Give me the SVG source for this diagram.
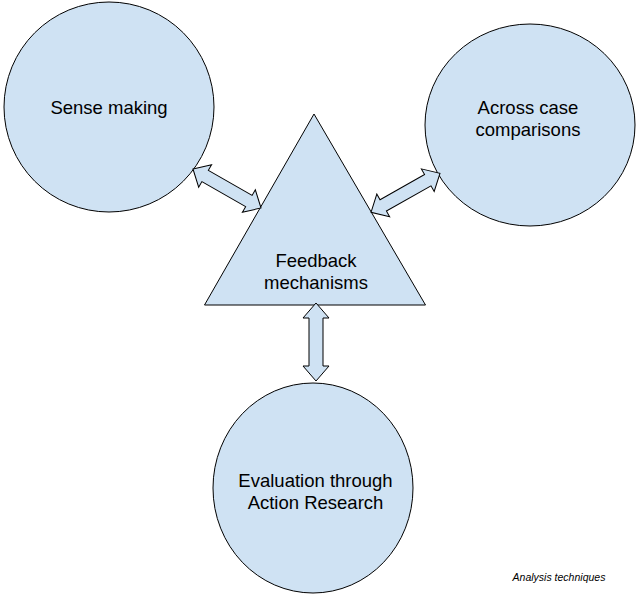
<svg xmlns="http://www.w3.org/2000/svg" width="637" height="595" viewBox="0 0 637 595">
<style>
.shape{fill:#cfe2f3;stroke:#000;stroke-width:1}
.arrow{fill:#cfe2f3;stroke:#000;stroke-width:1;stroke-linejoin:miter}
.lbl{font-family:"Liberation Sans",Arial,sans-serif;font-size:18.5px;fill:#000;text-anchor:middle}
.cap{font-family:"Liberation Sans",Arial,sans-serif;font-size:10.5px;font-style:italic;fill:#000;text-anchor:middle}
</style>
<rect width="637" height="595" fill="#fff"/>
<g id="sense-making">
<ellipse class="shape" cx="109" cy="107" rx="105" ry="105"/>
<text class="lbl" x="109" y="114">Sense making</text>
</g>
<g id="across-case">
<ellipse class="shape" cx="530" cy="125" rx="105" ry="101"/>
<text class="lbl" x="528" y="114">Across case</text>
<text class="lbl" x="528" y="136">comparisons</text>
</g>
<g id="feedback">
<polygon class="shape" points="314,114 204.5,305 425.5,305"/>
<text class="lbl" x="316" y="267">Feedback</text>
<text class="lbl" x="316" y="289">mechanisms</text>
</g>
<g id="evaluation">
<ellipse class="shape" cx="313" cy="488" rx="100" ry="105"/>
<text class="lbl" x="315.5" y="487">Evaluation through</text>
<text class="lbl" x="315.5" y="509">Action Research</text>
</g>
<g id="connectors">
<path class="arrow" transform="translate(227,188.5) rotate(29.8)" d="M-39.2,0 L-25.2,-13 L-25.2,-6.5 L25.2,-6.5 L25.2,-13 L39.2,0 L25.2,13 L25.2,6.5 L-25.2,6.5 L-25.2,13 Z"/>
<path class="arrow" transform="translate(405.5,192.8) rotate(-29.5)" d="M-39.6,0 L-25.6,-13 L-25.6,-6.5 L25.6,-6.5 L25.6,-13 L39.6,0 L25.6,13 L25.6,6.5 L-25.6,6.5 L-25.6,13 Z"/>
<path class="arrow" transform="translate(316,342) rotate(90)" d="M-39,0 L-24,-13 L-24,-7 L24,-7 L24,-13 L39,0 L24,13 L24,7 L-24,7 L-24,13 Z"/>
</g>
<text class="cap" x="559" y="581">Analysis techniques</text>
</svg>
